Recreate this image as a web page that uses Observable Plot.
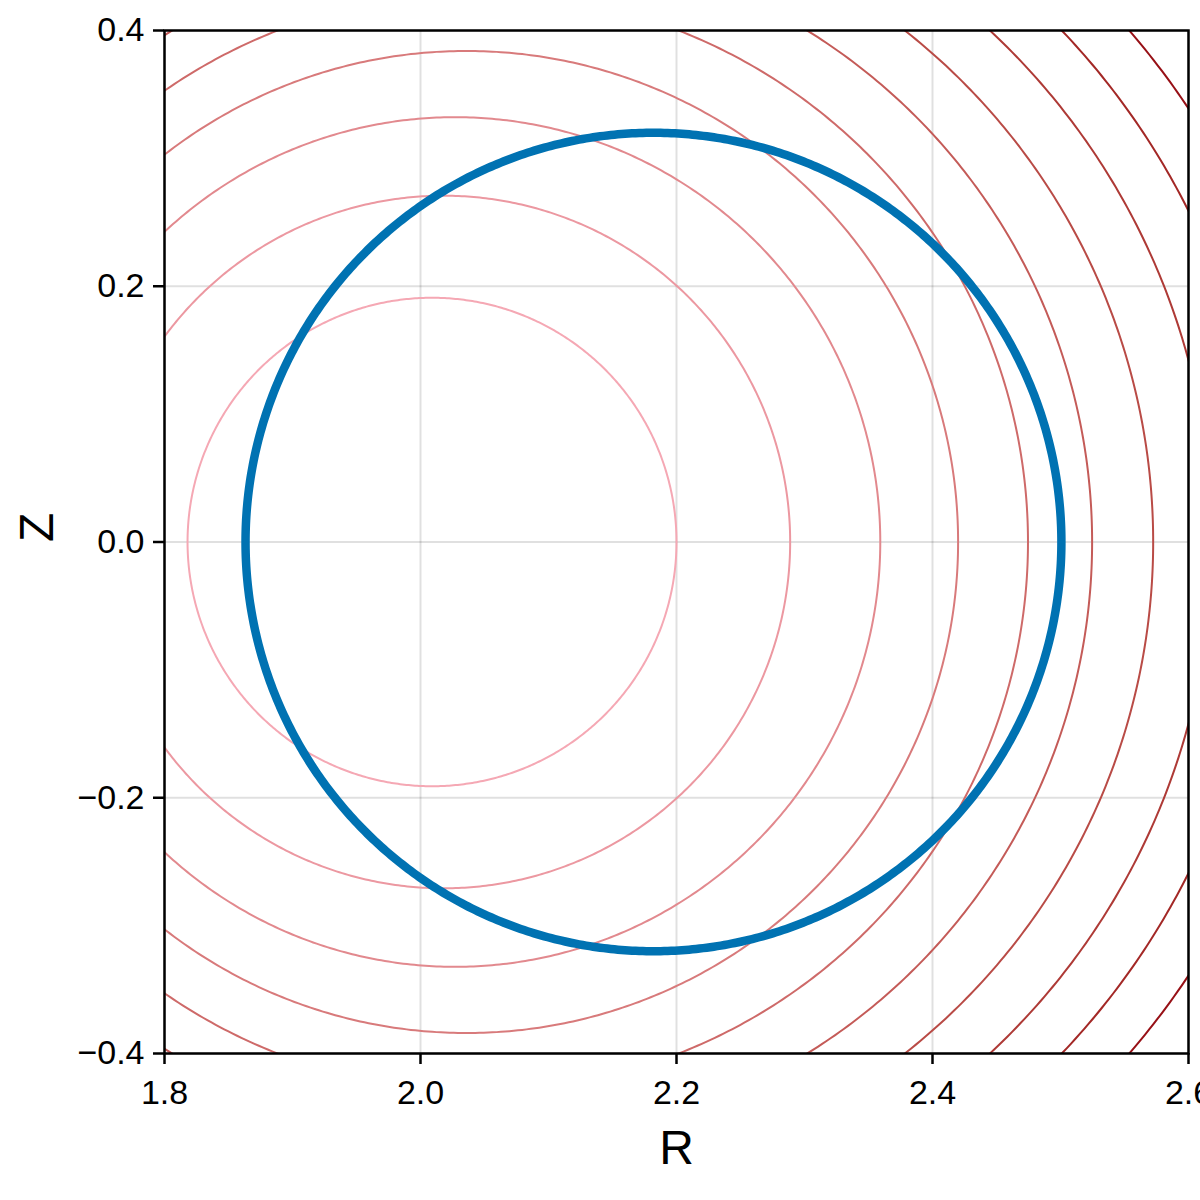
<!DOCTYPE html>
<html><head><meta charset="utf-8">
<script src="https://cdn.jsdelivr.net/npm/d3@7"></script>
<script src="https://cdn.jsdelivr.net/npm/@observablehq/plot@0.6"></script>
<style>html,body{margin:0;padding:0;background:#fff;overflow:hidden}</style>
</head><body><div id="chart"></div>
<script>
// Flux-surface contour levels (nested, Shafranov-shifted circles)
const levels = [1, 2, 3, 4, 5, 6, 7, 8, 9, 10];
const contourCenterR = [2.009, 2.018, 2.027, 2.036, 2.045, 2.054, 2.063, 2.072, 2.081, 2.090];
const contourCenterZ = [0, 0, 0, 0, 0, 0, 0, 0, 0, 0];
const contourRadius = [0.191, 0.2708, 0.3322, 0.384, 0.4296, 0.4707, 0.5094, 0.5468, 0.580, 0.6124];

// Plasma boundary (blue)
const boundaryCenterR = [2.182];
const boundaryCenterZ = [0];
const boundaryHalfWidth = [0.3187];
const boundaryHalfHeight = [0.32];

const xTicks = [1.8, 2.0, 2.2, 2.4, 2.6];
const yTicks = [-0.4, -0.2, 0.0, 0.2, 0.4];

// Build polyline points for closed curves
const N = 720;
const contourPts = [];
levels.forEach((lv, i) => {
  for (let j = 0; j <= N; j++) {
    const t = 2 * Math.PI * j / N;
    contourPts.push({level: lv, R: contourCenterR[i] + contourRadius[i] * Math.cos(t), Z: contourCenterZ[i] + contourRadius[i] * Math.sin(t)});
  }
});
const boundaryPts = [];
for (let j = 0; j <= N; j++) {
  const t = 2 * Math.PI * j / N;
  boundaryPts.push({R: boundaryCenterR[0] + boundaryHalfWidth[0] * Math.cos(t), Z: boundaryCenterZ[0] + boundaryHalfHeight[0] * Math.sin(t)});
}

const fmt = d3.format(".1f");
const chart = Plot.plot({
  width: 1200,
  height: 1200,
  marginLeft: 164,
  marginRight: 12,
  marginTop: 30,
  marginBottom: 147,
  style: {fontFamily: "'Liberation Sans', Arial, Helvetica, sans-serif", fontSize: "34px", background: "#fff"},
  x: {domain: [1.8, 2.6]},
  y: {domain: [-0.4, 0.4]},
  color: {type: "linear", domain: [1, 10], range: ["#f5a8b4", "#971016"], interpolate: "lab"},
  marks: [
    Plot.gridX(xTicks, {stroke: "#000", strokeOpacity: 0.12, strokeWidth: 2}),
    Plot.gridY(yTicks, {stroke: "#000", strokeOpacity: 0.12, strokeWidth: 2}),
    Plot.line(contourPts, {x: "R", y: "Z", z: "level", stroke: "level", strokeWidth: 2, clip: true}),
    Plot.line(boundaryPts, {x: "R", y: "Z", stroke: "#0072b2", strokeWidth: 8.5, clip: true}),
    Plot.frame({stroke: "#000", strokeWidth: 2.5}),
    Plot.axisX(xTicks, {tickFormat: fmt, tickSize: 11, tickPadding: 15, strokeWidth: 2.5, label: null, fontSize: 34}),
    Plot.axisY(yTicks, {tickFormat: fmt, tickSize: 11, tickPadding: 9, strokeWidth: 2.5, label: null, fontSize: 34}),
    Plot.text(["R"], {frameAnchor: "bottom", dy: 110, fontSize: 48, fill: "#000"}),
    Plot.text(["Z"], {frameAnchor: "left", dx: -127, rotate: -90, fontSize: 48, fill: "#000"})
  ]
});
document.getElementById("chart").appendChild(chart);
</script>
</body></html>
